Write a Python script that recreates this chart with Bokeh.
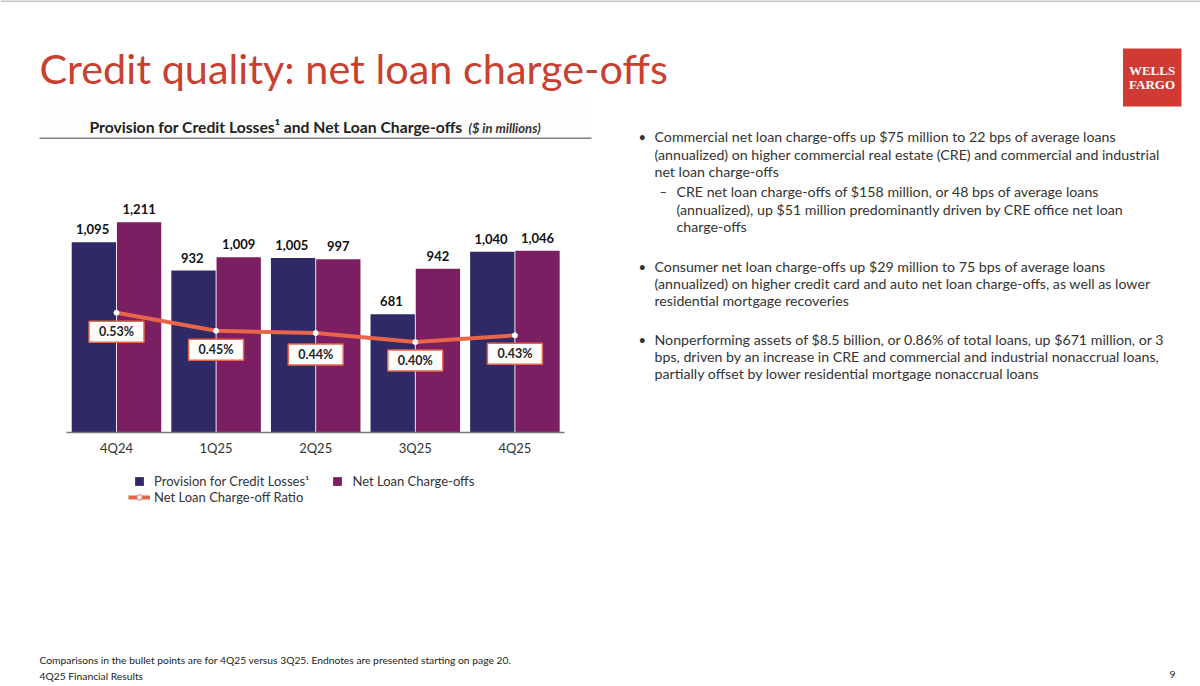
from bokeh.core.properties import value
from bokeh.embed import file_html
from bokeh.models import BoxAnnotation, ColumnDataSource, FixedTicker, Label, Legend, LegendItem, LinearAxis, Range1d
from bokeh.plotting import figure
from bokeh.resources import INLINE
from bokeh.transform import dodge

quarters = ["4Q24", "1Q25", "2Q25", "3Q25", "4Q25"]
provision = [1095, 932, 1005, 681, 1040]
charge_offs = [1211, 1009, 997, 942, 1046]
ratio = [0.53, 0.45, 0.44, 0.40, 0.43]
ratio_labels = ["0.53%", "0.45%", "0.44%", "0.40%", "0.43%"]

title_text = "Credit quality: net loan charge-offs"
panel_title = "Provision for Credit Losses¹ and Net Loan Charge-offs"
panel_unit = "($ in millions)"
bullets = [
    "Commercial net loan charge-offs up $75 million to 22 bps of average loans",
    "(annualized) on higher commercial real estate (CRE) and commercial and industrial",
    "net loan charge-offs",
    "CRE net loan charge-offs of $158 million, or 48 bps of average loans",
    "(annualized), up $51 million predominantly driven by CRE office net loan",
    "charge-offs",
    "Consumer net loan charge-offs up $29 million to 75 bps of average loans",
    "(annualized) on higher credit card and auto net loan charge-offs, as well as lower",
    "residential mortgage recoveries",
    "Nonperforming assets of $8.5 billion, or 0.86% of total loans, up $671 million, or 3",
    "bps, driven by an increase in CRE and commercial and industrial nonaccrual loans,",
    "partially offset by lower residential mortgage nonaccrual loans",
]
footnote = "Comparisons in the bullet points are for 4Q25 versus 3Q25. Endnotes are presented starting on page 20."
footer = "4Q25 Financial Results"
page_no = "9"

W, H = 1200, 686
X0, STEP = 116, 99.6   # first group centre and group spacing, px
BASE = 432             # baseline, px from top
PX_PER_VALUE = 0.1737
PX_PER_RATIO = 226
FONT = "Lato"
NAVY, PLUM, CORAL, RED = "#2f2a66", "#7b1f62", "#e8654a", "#c8402f"

p = figure(width=W, height=H, output_backend="svg", toolbar_location=None,
           x_range=Range1d(-X0 / STEP, (W - X0) / STEP),
           y_range=Range1d(-(H - BASE) / PX_PER_VALUE, BASE / PX_PER_VALUE),
           min_border=0, outline_line_color=None, background_fill_color="white", border_fill_color="white")
p.extra_y_ranges = {"ratio": Range1d(-(H - BASE) / PX_PER_RATIO, BASE / PX_PER_RATIO)}
p.grid.visible = False
p.yaxis.visible = False
p.xaxis.visible = False


def put(x, y, s, size, color="#333333", style="normal", font=FONT, align="left"):
    p.add_layout(Label(x=x, y=H - y, x_units="screen", y_units="screen", text=s,
                       text_font=font, text_font_size=f"{size}px", text_color=color,
                       text_font_style=style, text_baseline="middle", text_align=align))


def block(x0, x1, y0, y1, color):
    p.add_layout(BoxAnnotation(left=x0, right=x1, top=H - y0, bottom=H - y1, top_units="screen",
                               bottom_units="screen", left_units="screen", right_units="screen",
                               fill_color=color, fill_alpha=1, line_color=None))


block(39, 592, 102, 137, "#fdfdfd")

pos = list(range(len(quarters)))
xax = LinearAxis(fixed_location=0, bounds=(-0.5, 4.5), ticker=FixedTicker(ticks=pos),
                 major_label_overrides=dict(zip(pos, quarters)),
                 axis_line_color="#777777", axis_line_width=1.5,
                 major_tick_line_color=None, minor_tick_line_color=None,
                 major_label_text_font=FONT, major_label_text_font_size="13px",
                 major_label_text_color="#333333", major_label_standoff=1)
p.add_layout(xax, "below")

box_drop = [19, 19, 21.5, 18.5, 18.5]
nan = float("nan")
src = ColumnDataSource(dict(q=pos, provision=provision, charge_offs=charge_offs, ratio=ratio,
                            ptxt=[f"{v:,}" for v in provision], ctxt=[f"{v:,}" for v in charge_offs],
                            rtxt=ratio_labels, drop=box_drop))
b1 = p.vbar(x=dodge("q", -0.227), top="provision", width=0.445, source=src, fill_color=NAVY, line_color=None)
b2 = p.vbar(x=dodge("q", 0.227), top="charge_offs", width=0.445, source=src, fill_color=PLUM, line_color=None)
for col, top, d in (("ptxt", "provision", -0.24), ("ctxt", "charge_offs", 0.227)):
    p.text(x=dodge("q", d), y=top, text=col, source=src, text_align="center", text_baseline="bottom",
           y_offset=-8, text_font=value(FONT), text_font_style="bold", text_font_size="13px",
           text_color="#111111")

ln = p.line("q", "ratio", source=src, y_range_name="ratio", line_color=CORAL, line_width=4)
mk = p.scatter("q", "ratio", source=src, y_range_name="ratio", size=5, fill_color="white", line_color="white")
p.text("q", "ratio", text="rtxt", source=src, y_range_name="ratio", y_offset="drop", text_font=value(FONT),
       text_font_style="bold", text_font_size="12.5px", text_color="#222222", text_align="center",
       text_baseline="middle", padding=(10, 3), background_fill_color="white", border_line_color=CORAL,
       border_line_width=1.5)

sq1 = p.scatter([0], [nan], marker="square", size=12, fill_color=NAVY, line_color=None)
sq2 = p.scatter([0], [nan], marker="square", size=12, fill_color=PLUM, line_color=None)
leg_mk = p.scatter([0], [nan], size=6, fill_color="white", line_color=CORAL)
leg_style = dict(border_line_color=None, background_fill_alpha=0, glyph_width=22, label_standoff=4,
                 margin=0, padding=0, label_text_font=FONT, label_text_font_size="13px",
                 label_text_color="#333333", label_height=14)
# markers in a legend scale with the glyph height, so the squares get a taller glyph box
legend_bars = Legend(items=[LegendItem(label="Provision for Credit Losses¹", renderers=[sq1]),
                            LegendItem(label="Net Loan Charge-offs", renderers=[sq2])],
                     orientation="horizontal", location=(128, H - 496), glyph_height=30, spacing=17, **leg_style)
legend_line = Legend(items=[LegendItem(label="Net Loan Charge-off Ratio", renderers=[ln, leg_mk])],
                     location=(128, H - 505), glyph_height=14, **leg_style)
p.add_layout(legend_bars, "center")
p.add_layout(legend_line, "center")

block(0, 1200, 0, 1, "#888888")
put(39, 67, title_text, 41.4, RED)
put(89, 126.5, panel_title, 15.7, "#222222", "bold")
put(468, 127, panel_unit, 13, "#333333", "bold italic")
block(39, 591, 137, 138.5, "#808080")
block(1122.5, 1181, 48, 106, "#cf3a32")
put(1151.5, 70, "WELLS", 13, "white", "bold", "Liberation Serif", "center")
put(1151.5, 84, "FARGO", 13, "white", "bold", "Liberation Serif", "center")

ys = [136, 154, 171, 191, 209, 226, 266, 283, 300, 339, 356, 373]
xs = [654, 654, 654, 676, 676, 676, 654, 654, 654, 654, 654, 654]
for x, y, s in zip(xs, ys, bullets):
    put(x, y, s, 14.2)
for y in (136, 266, 339):
    put(638, y, "•", 13)
put(659, 191, "–", 13)

put(39, 659, footnote, 10.3, "#222222")
put(39, 675, footer, 10.3, "#222222")
put(1172, 674, page_no, 10.3, "#222222", align="center")

open("out.html", "w").write(file_html(p, INLINE))
